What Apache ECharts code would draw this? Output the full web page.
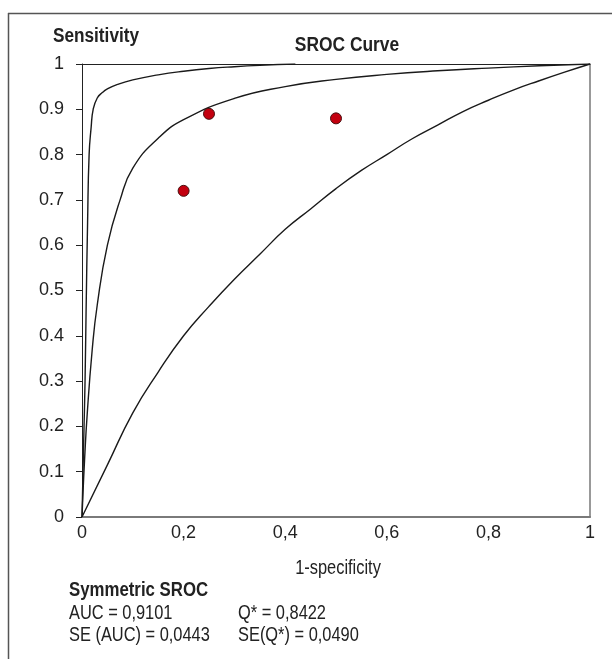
<!DOCTYPE html>
<html><head><meta charset="utf-8">
<script src="https://cdn.jsdelivr.net/npm/echarts@6/dist/echarts.min.js"></script>
<style>html,body{margin:0;padding:0;background:#fff}#c{width:612px;height:659px}</style>
</head><body><div id="c"></div>
<script>
// ---- data ----
const xTickLabels = ['0', '0,2', '0,4', '0,6', '0,8', '1'];
const yTickLabels = ['0', '0.1', '0.2', '0.3', '0.4', '0.5', '0.6', '0.7', '0.8', '0.9', '1'];

// upper curve (1-specificity, sensitivity)
const upperX = [0, 0.002, 0.004, 0.006, 0.008, 0.011, 0.014, 0.018, 0.022, 0.03, 0.04, 0.05, 0.07, 0.1, 0.15, 0.2, 0.25, 0.3, 0.35, 0.42];
const upperY = [0, 0.1, 0.2, 0.3, 0.45, 0.65, 0.8, 0.86, 0.9, 0.925, 0.937, 0.945, 0.955, 0.965, 0.976, 0.984, 0.99, 0.994, 0.997, 1.0];

// middle curve (symmetric SROC)
const midX = [0, 0.002, 0.005, 0.01, 0.02, 0.03, 0.05, 0.075, 0.1, 0.15, 0.2, 0.3, 0.4, 0.5, 0.6, 0.7, 0.8, 0.9, 1];
const midY = [0, 0.054, 0.125, 0.223, 0.368, 0.468, 0.6, 0.7, 0.77, 0.836, 0.877, 0.924, 0.95, 0.966, 0.977, 0.985, 0.991, 0.996, 1];

// lower curve
const lowX = [0, 0.05, 0.1, 0.15, 0.2, 0.25, 0.3, 0.35, 0.4, 0.45, 0.5, 0.55, 0.6, 0.65, 0.7, 0.75, 0.8, 0.85, 0.9, 0.95, 1];
const lowY = [0, 0.115, 0.23, 0.32, 0.4, 0.465, 0.525, 0.58, 0.635, 0.68, 0.725, 0.765, 0.8, 0.835, 0.865, 0.895, 0.92, 0.943, 0.963, 0.982, 1];

// studies
const studyX = [0.25, 0.50, 0.20];
const studyY = [0.89, 0.88, 0.72];

const titleText = 'SROC Curve';
const yName = 'Sensitivity';
const xName = '1-specificity';
const statsHeader = 'Symmetric SROC';
const statsLeft = ['AUC = 0,9101', 'SE (AUC) = 0,0443'];
const statsRight = ['Q* = 0,8422', 'SE(Q*) = 0,0490'];

const FONT = '"Liberation Sans", Arial, Helvetica, sans-serif';
const zip = (a, b) => a.map((v, i) => [v, b[i]]);

const chart = echarts.init(document.getElementById('c'), null, {renderer: 'canvas'});
const txt = (text, x, y, sx, opts) => ({
  type: 'text', x: x, y: y, scaleX: sx,
  style: Object.assign({text: text, fill: '#222', font: '20px ' + FONT, textVerticalAlign: 'middle', textAlign: 'left'}, opts || {})
});
const curve = (xs, ys) => ({
  type: 'line', data: zip(xs, ys), smooth: 0.5, showSymbol: false,
  lineStyle: {color: '#1a1a1a', width: 1.4}, z: 3
});

chart.setOption({
  animation: false,
  backgroundColor: '#fff',
  grid: {left: 82, right: 22, top: 64, bottom: 142, containLabel: false},
  xAxis: [{
    type: 'value', min: 0, max: 1, interval: 0.2,
    axisLine: {show: true, onZero: false, lineStyle: {color: '#7a7a7a', width: 2}},
    axisTick: {show: false},
    splitLine: {show: false},
    axisLabel: {margin: 7, color: '#222', fontSize: 18, fontFamily: FONT,
      formatter: v => xTickLabels[Math.round(v / 0.2)]}
  }, {
    type: 'value', min: 0, max: 1, position: 'top',
    axisLine: {show: true, onZero: false, lineStyle: {color: '#222', width: 1}},
    axisTick: {show: false}, axisLabel: {show: false}, splitLine: {show: false}
  }],
  yAxis: [{
    type: 'value', min: 0, max: 1, interval: 0.1,
    axisLine: {show: true, onZero: false, lineStyle: {color: '#222', width: 1}},
    axisTick: {show: true, length: 6, lineStyle: {color: '#222'}},
    splitLine: {show: false},
    axisLabel: {margin: 18, color: '#222', fontSize: 18, fontFamily: FONT,
      formatter: v => yTickLabels[Math.round(v / 0.1)]}
  }, {
    type: 'value', min: 0, max: 1, position: 'right',
    axisLine: {show: true, onZero: false, lineStyle: {color: '#777', width: 1.5}},
    axisTick: {show: false}, axisLabel: {show: false}, splitLine: {show: false}
  }],
  series: [
    curve(lowX, lowY),
    curve(midX, midY),
    curve(upperX, upperY),
    {type: 'scatter', data: zip(studyX, studyY), symbol: 'circle', symbolSize: 11,
     itemStyle: {color: '#c3000f', borderColor: '#4a1010', borderWidth: 1, opacity: 1}, z: 5}
  ],
  graphic: [
    {type: 'line', shape: {x1: 8, y1: 13.5, x2: 612, y2: 13.5}, style: {stroke: '#555', lineWidth: 1.5}},
    {type: 'line', shape: {x1: 8.5, y1: 13, x2: 8.5, y2: 659}, style: {stroke: '#555', lineWidth: 1.5}},
    txt(yName, 96, 36, 0.86, {font: 'bold 20px ' + FONT, textAlign: 'center'}),
    txt(titleText, 347, 45, 0.87, {font: 'bold 20px ' + FONT, textAlign: 'center'}),
    txt(xName, 338, 568, 0.82, {textAlign: 'center'}),
    txt(statsHeader, 69, 590, 0.84, {font: 'bold 20px ' + FONT}),
    txt(statsLeft[0], 69, 613, 0.82),
    txt(statsLeft[1], 69, 635, 0.82),
    txt(statsRight[0], 238, 613, 0.82),
    txt(statsRight[1], 238, 635, 0.82)
  ]
});
</script>
</body></html>
